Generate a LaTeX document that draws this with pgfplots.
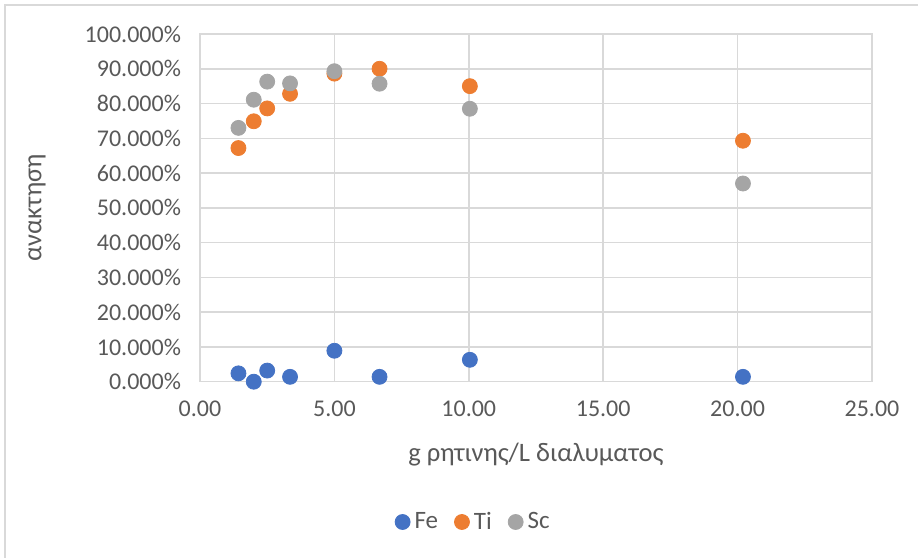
\documentclass[border=0pt]{standalone}
\usepackage{fontspec}
\setmainfont{Carlito}
\usepackage{pgfplots}
\pgfplotsset{compat=1.18}
\definecolor{feC}{HTML}{4472C4}
\definecolor{tiC}{HTML}{ED7D31}
\definecolor{scC}{HTML}{A5A5A5}
\definecolor{gridC}{HTML}{D9D9D9}
\definecolor{txtC}{HTML}{595959}
\begin{document}
\begin{tikzpicture}[x=1pt,y=1pt]
% page extent (918x558 px at 0.5pt/px)
\path[use as bounding box] (0,0) rectangle (459,279);
\draw[gridC,line width=0.75pt] (2.5,0) -- (2.5,276.5) -- (459,276.5);
\begin{axis}[
  at={(100pt,88.15pt)}, anchor=south west,
  scale only axis, width=336pt, height=173.85pt,
  xmin=0, xmax=25, ymin=0, ymax=100,
  xtick={0,5,10,15,20,25},
  ytick={0,10,...,100},
  major tick length=0pt,
  grid=major,
  major grid style={gridC, line width=0.75pt},
  axis line style={gridC, line width=0.75pt},
  /pgf/number format/assume math mode=true,
  xticklabel={\pgfmathprintnumber[fixed,fixed zerofill,precision=2]{\tick}},
  yticklabel={\pgfmathprintnumber[fixed,fixed zerofill,precision=3]{\tick}\%},
  tick label style={font=\fontsize{12}{14}\selectfont, text=txtC},
  xticklabel style={yshift=-6pt},
  yticklabel style={xshift=-6pt},
  xlabel={g ρητινης/L διαλυματος},
  ylabel={ανακτηση},
  label style={font=\fontsize{13.3}{15}\selectfont, text=txtC},
  xlabel style={at={(0.5,0)}, anchor=center, yshift=-36.5pt},
  ylabel style={at={(0,0.5)}, anchor=center, rotate=0, yshift=81.5pt},
  legend style={at={(0.408,-0.4035)}, anchor=center, draw=none, fill=none,
    legend columns=-1, font=\fontsize{12.5}{14}\selectfont, text=txtC,
    /tikz/every even column/.append style={column sep=6pt}},
  legend image code/.code={\fill[#1] (0.1cm,0) circle (3.75pt);},
  legend cell align=left,
]
\addplot[only marks, mark=*, mark size=3.75pt, color=feC, mark options={draw=feC, fill=feC}]
coordinates {(1.43,2.4) (2.0,0.0) (2.5,3.2) (3.35,1.4) (5.0,8.9) (6.68,1.4) (10.04,6.3) (20.2,1.4)};
\addlegendentry{Fe}
\addplot[only marks, mark=*, mark size=3.75pt, color=tiC, mark options={draw=tiC, fill=tiC}]
coordinates {(1.43,67.2) (2.0,74.9) (2.5,78.6) (3.35,82.8) (5.0,88.6) (6.68,90.0) (10.04,85.0) (20.2,69.3)};
\addlegendentry{Ti}
\addplot[only marks, mark=*, mark size=3.75pt, color=scC, mark options={draw=scC, fill=scC}]
coordinates {(1.43,73.0) (2.0,81.1) (2.5,86.3) (3.35,85.8) (5.0,89.3) (6.68,85.7) (10.04,78.5) (20.2,57.0)};
\addlegendentry{Sc}
\end{axis}
\end{tikzpicture}
\end{document}
